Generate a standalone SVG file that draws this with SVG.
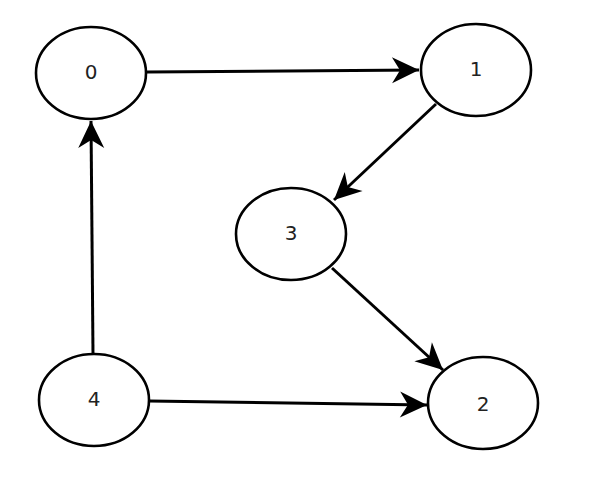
<svg xmlns="http://www.w3.org/2000/svg" width="589" height="485" viewBox="0 0 589 485">
<style>
.node ellipse{fill:#fff;stroke:#000;stroke-width:2.6}
.node text{font-family:"DejaVu Sans",sans-serif;font-size:20px;fill:#222;text-anchor:middle;dominant-baseline:central}
.edge{fill:none;stroke:#000;stroke-width:3;marker-end:url(#ah)}
</style>
<defs>
<marker id="ah" markerUnits="userSpaceOnUse" markerWidth="32" markerHeight="30" viewBox="-30 -15 32 30" refX="0" refY="0" orient="auto">
<path d="M0,0 L-27,-13 L-19,0 L-27,13 Z" fill="#000"/>
</marker>
</defs>
<rect width="589" height="485" fill="#fff"/>
<g id="connectors">
<line class="edge" x1="147" y1="72" x2="419" y2="70"/>
<line class="edge" x1="436" y1="104" x2="334" y2="200"/>
<line class="edge" x1="332" y1="268" x2="443" y2="370"/>
<line class="edge" x1="149" y1="401" x2="427" y2="405"/>
<line class="edge" x1="93" y1="354" x2="91" y2="121"/>
</g>
<g id="node0" class="node"><ellipse cx="91" cy="73" rx="55" ry="46"/><text x="91" y="72">0</text></g>
<g id="node1" class="node"><ellipse cx="476" cy="70" rx="55" ry="46"/><text x="476" y="69">1</text></g>
<g id="node2" class="node"><ellipse cx="483" cy="403" rx="55" ry="46"/><text x="483" y="404">2</text></g>
<g id="node3" class="node"><ellipse cx="291" cy="234" rx="55" ry="46"/><text x="291" y="233">3</text></g>
<g id="node4" class="node"><ellipse cx="94" cy="400" rx="55" ry="46"/><text x="94" y="399">4</text></g>
</svg>
